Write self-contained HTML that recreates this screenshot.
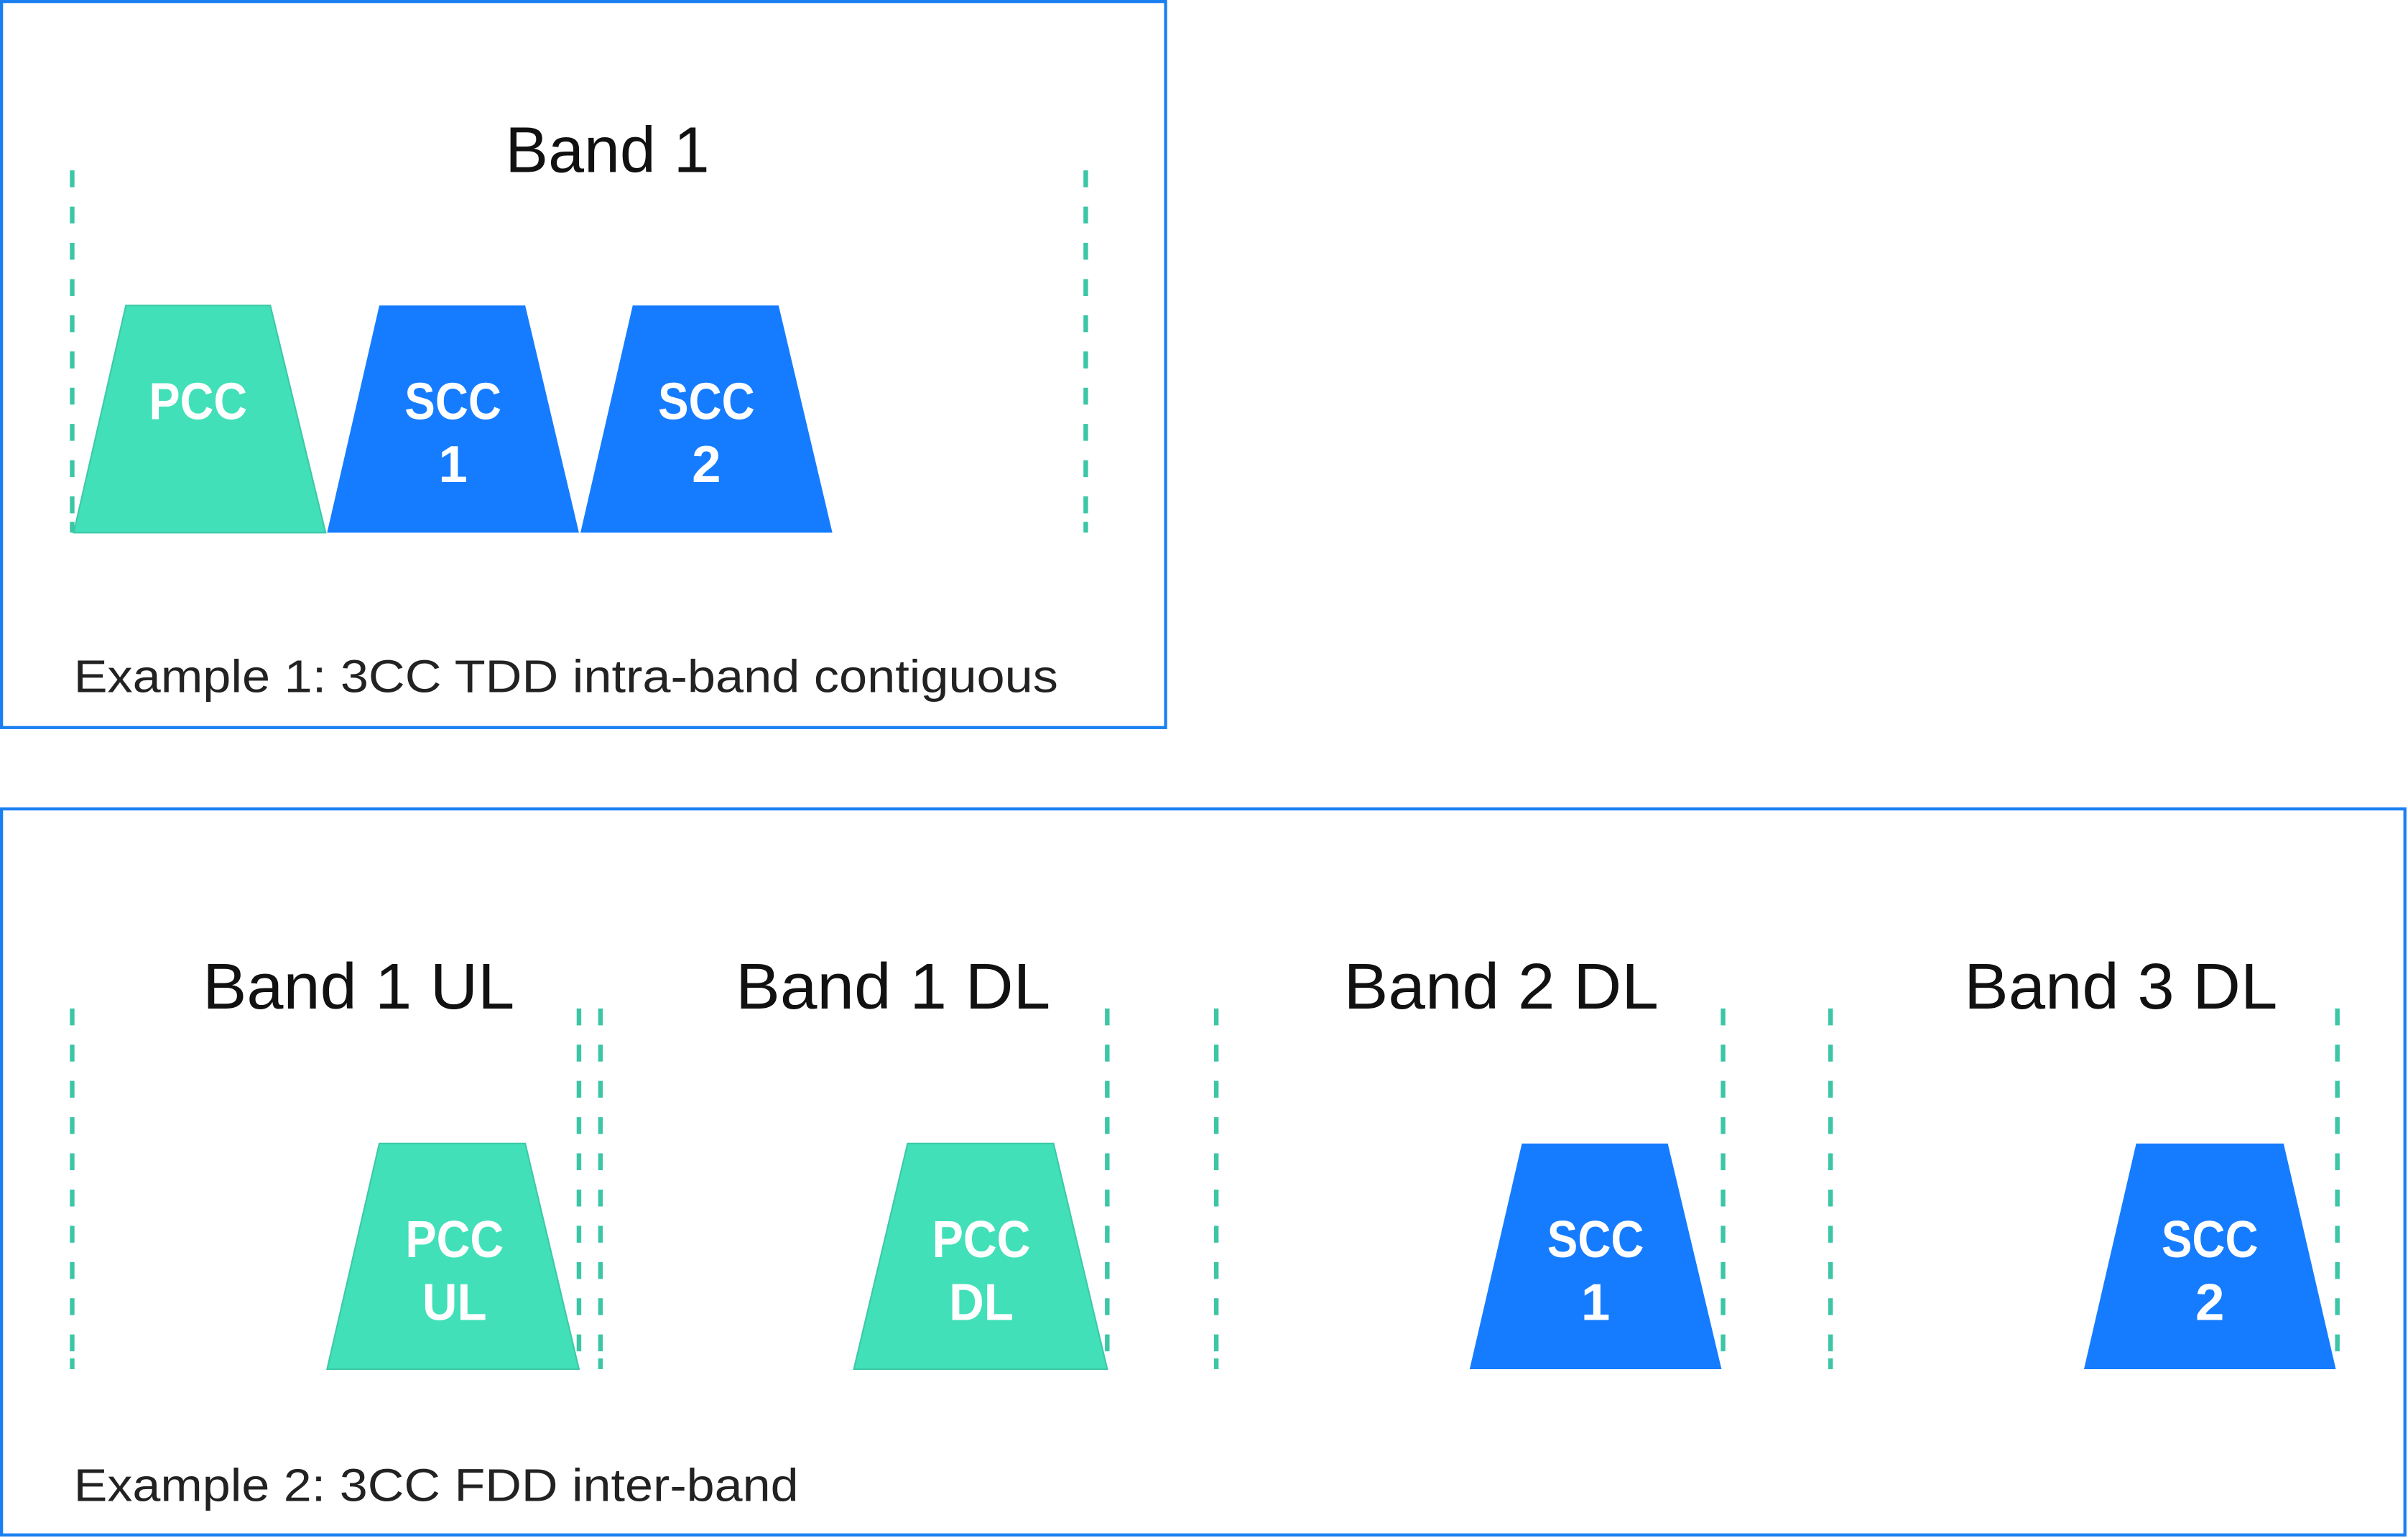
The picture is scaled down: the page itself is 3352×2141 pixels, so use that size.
<!DOCTYPE html>
<html><head><meta charset="utf-8"><style>
html,body{margin:0;padding:0;background:#fff;}
svg{display:block;}
</style></head><body>
<svg width="3352" height="2141" viewBox="0 0 1568 1002" preserveAspectRatio="none" xmlns="http://www.w3.org/2000/svg">
<g fill="none" stroke="#1a80f2" stroke-width="2">
<rect x="1" y="1" width="758" height="473"/>
<rect x="1" y="527" width="1565" height="473"/>
</g>
<g stroke="#3cc6a6" stroke-width="3" stroke-dasharray="11 12.6">
<line x1="47" y1="111" x2="47" y2="347"/>
<line x1="707" y1="111" x2="707" y2="347"/>
<line x1="47" y1="657" x2="47" y2="892"/>
<line x1="377" y1="657" x2="377" y2="892"/>
<line x1="391" y1="657" x2="391" y2="892"/>
<line x1="721" y1="657" x2="721" y2="892"/>
<line x1="792" y1="657" x2="792" y2="892"/>
<line x1="1122" y1="657" x2="1122" y2="892"/>
<line x1="1192" y1="657" x2="1192" y2="892"/>
<line x1="1522" y1="657" x2="1522" y2="892"/>
</g>
<g stroke="#3cc6a6" stroke-width="3">
<line x1="47" y1="340" x2="47" y2="347"/>
<line x1="707" y1="340" x2="707" y2="347"/>
<line x1="47" y1="885" x2="47" y2="892"/>
<line x1="391" y1="885" x2="391" y2="892"/>
<line x1="792" y1="885" x2="792" y2="892"/>
<line x1="1192" y1="885" x2="1192" y2="892"/>
</g>
<g stroke-width="1">
<polygon points="48,347 82,199 176,199 212,347" fill="#42e0b8" stroke="#3cc9a8"/>
<polygon points="213,347 247,199 342,199 377,347" fill="#167cff"/>
<polygon points="378,347 412,199 507,199 542,347" fill="#167cff"/>
<polygon points="213,892 247,745 342,745 377,892" fill="#42e0b8" stroke="#3cc9a8"/>
<polygon points="556,892 591,745 686,745 721,892" fill="#42e0b8" stroke="#3cc9a8"/>
<polygon points="957,892 991,745 1086,745 1121,892" fill="#167cff"/>
<polygon points="1357,892 1391,745 1487,745 1521,892" fill="#167cff"/>
</g>
<g font-family="Liberation Sans, sans-serif" fill="#111" font-size="42">
<text x="329" y="112" textLength="133" lengthAdjust="spacingAndGlyphs">Band 1</text>
<text x="132" y="657" textLength="203" lengthAdjust="spacingAndGlyphs">Band 1 UL</text>
<text x="479" y="657" textLength="205" lengthAdjust="spacingAndGlyphs">Band 1 DL</text>
<text x="875" y="657" textLength="205" lengthAdjust="spacingAndGlyphs">Band 2 DL</text>
<text x="1279" y="657" textLength="204" lengthAdjust="spacingAndGlyphs">Band 3 DL</text>
</g>
<g font-family="Liberation Sans, sans-serif" fill="#222" font-size="30">
<text x="48" y="451" textLength="641" lengthAdjust="spacingAndGlyphs">Example 1: 3CC TDD intra-band contiguous</text>
<text x="48" y="978" textLength="472" lengthAdjust="spacingAndGlyphs">Example 2: 3CC FDD inter-band</text>
</g>
<g font-family="Liberation Sans, sans-serif" fill="#fff" font-size="34" font-weight="600" text-anchor="middle">
<text x="129" y="273" textLength="64" lengthAdjust="spacingAndGlyphs">PCC</text>
<text x="295" y="273" textLength="63" lengthAdjust="spacingAndGlyphs">SCC</text>
<text x="295" y="314">1</text>
<text x="460" y="273" textLength="63" lengthAdjust="spacingAndGlyphs">SCC</text>
<text x="460" y="314">2</text>
<text x="296" y="819" textLength="64" lengthAdjust="spacingAndGlyphs">PCC</text>
<text x="296" y="860" textLength="42" lengthAdjust="spacingAndGlyphs">UL</text>
<text x="639" y="819" textLength="64" lengthAdjust="spacingAndGlyphs">PCC</text>
<text x="639" y="860" textLength="42" lengthAdjust="spacingAndGlyphs">DL</text>
<text x="1039" y="819" textLength="63" lengthAdjust="spacingAndGlyphs">SCC</text>
<text x="1039" y="860">1</text>
<text x="1439" y="819" textLength="63" lengthAdjust="spacingAndGlyphs">SCC</text>
<text x="1439" y="860">2</text>
</g>
</svg>
</body></html>
